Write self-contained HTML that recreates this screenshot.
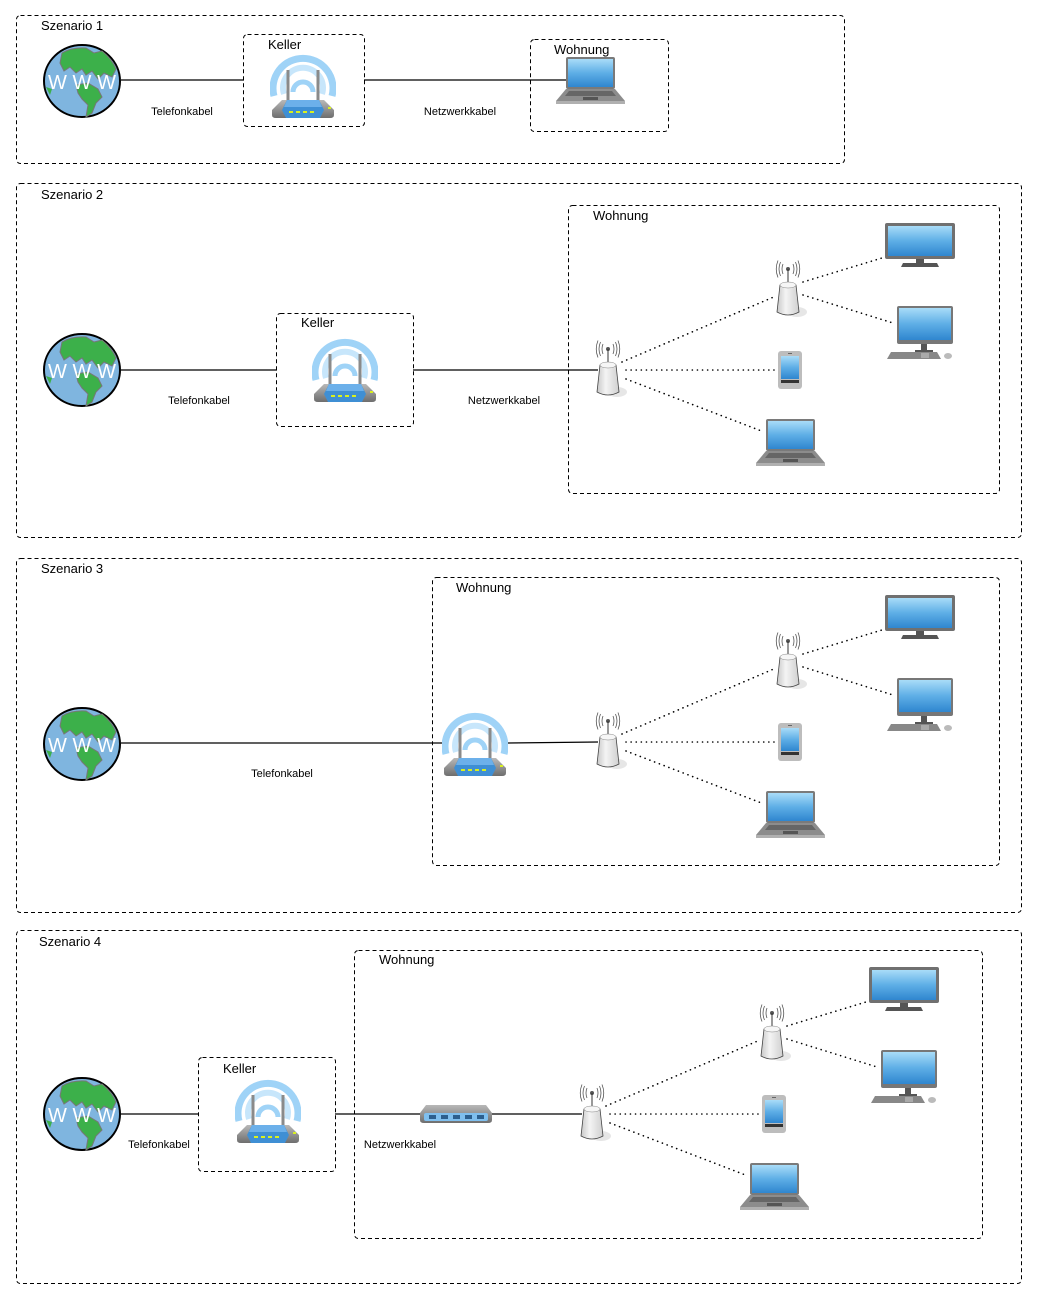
<!DOCTYPE html>
<html><head><meta charset="utf-8"><style>
html,body{margin:0;padding:0;background:#fff;}
svg{display:block;}
text{font-family:"Liberation Sans",sans-serif;fill:#000;}
.t{font-size:13px;}
.l{font-size:11px;}
.box{fill:none;stroke:#000;stroke-width:1;stroke-dasharray:4,3;}
.ln{stroke:#000;stroke-width:1.2;fill:none;}
.dot{stroke:#000;stroke-width:1.6;stroke-dasharray:0.1,5;stroke-linecap:round;fill:none;}
</style></head><body>
<svg width="1037" height="1299" viewBox="0 0 1037 1299" xmlns="http://www.w3.org/2000/svg">
<defs>
<linearGradient id="scr" x1="0" y1="0" x2="0" y2="1"><stop offset="0" stop-color="#a9dcf8"/><stop offset="0.5" stop-color="#5eaee6"/><stop offset="1" stop-color="#2f86cf"/></linearGradient>
<linearGradient id="gry" x1="0" y1="0" x2="0" y2="1"><stop offset="0" stop-color="#b8b8b8"/><stop offset="1" stop-color="#6e6e6e"/></linearGradient>
<linearGradient id="apg" x1="0" y1="0" x2="1" y2="0"><stop offset="0" stop-color="#c8c8c8"/><stop offset="0.4" stop-color="#f4f4f4"/><stop offset="1" stop-color="#cfcfcf"/></linearGradient>
<symbol id="globe" width="80" height="76" viewBox="0 0 80 76">
<ellipse cx="40" cy="38" rx="38" ry="36" fill="#7fb5df" stroke="#000" stroke-width="2"/>
<path d="M20,10 Q30,4 44,5 L52,10 L60,8 Q70,16 74,26 L70,34 L62,30 L56,36 L50,28 L44,32 L40,26 L34,30 L28,24 L22,28 L18,20 Z" fill="#3cb04a" stroke="#777" stroke-width="1"/>
<path d="M34,42 L46,40 L56,46 L60,54 L54,60 L50,70 L44,74 L46,62 L40,56 L36,50 Z" fill="#3cb04a" stroke="#777" stroke-width="1"/>
<path d="M4,44 L10,46 L8,52 Z" fill="#3cb04a"/>
<text x="6" y="46" textLength="68" lengthAdjust="spacing" style="font-size:20px;fill:#fff">W W W</text>
</symbol>
<symbol id="router" width="66" height="67" viewBox="0 0 66 67">
<path d="M4,44 A30,30 0 1 1 62,44" fill="none" stroke="#9fd3f7" stroke-width="7"/>
<path d="M14,42 A20,20 0 1 1 52,42" fill="none" stroke="#c7e6fb" stroke-width="6"/>
<path d="M23,40 A10,10 0 1 1 43,40" fill="none" stroke="#9fd3f7" stroke-width="5"/>
<rect x="16.5" y="18" width="3" height="38" fill="#8a8a8a"/>
<rect x="46.5" y="18" width="3" height="38" fill="#8a8a8a"/>
<path d="M2,58 L12,48 L54,48 L64,58 L64,63 Q64,66 60,66 L6,66 Q2,66 2,63 Z" fill="url(#gry)"/>
<path d="M17,48 L49,48 L54,58 L50,66 L16,66 L12,58 Z" fill="#3f8fd4"/>
<path d="M17,48 L49,48 L52,55 L14,55 Z" fill="#6cb0ea"/>
<g fill="#d8f020"><rect x="19" y="59" width="4" height="2"/><rect x="26" y="59" width="4" height="2"/><rect x="33" y="59" width="4" height="2"/><rect x="40" y="59" width="4" height="2"/><rect x="58" y="55" width="3" height="2"/></g>
</symbol>
<symbol id="ap" width="34" height="60" viewBox="0 0 34 60">
<ellipse cx="22" cy="52" rx="10" ry="5" fill="#e6e6e6"/>
<g fill="none" stroke="#555" stroke-width="0.8">
<path d="M8,4 Q6,9 8,14"/><path d="M5.5,2 Q2.5,9 5.5,16"/><path d="M3,0.5 Q-0.5,9 3,17.5"/>
<path d="M18,4 Q20,9 18,14"/><path d="M20.5,2 Q23.5,9 20.5,16"/><path d="M23,0.5 Q26.5,9 23,17.5"/>
</g>
<circle cx="13" cy="9" r="2" fill="#555"/>
<line x1="13" y1="9" x2="13" y2="28" stroke="#333" stroke-width="1"/>
<path d="M5,25 Q13,20 21,25 L24,52 Q13,58 2,52 Z" fill="url(#apg)" stroke="#444" stroke-width="0.8"/>
<ellipse cx="13" cy="25" rx="8" ry="3" fill="#f6f6f6" stroke="#888" stroke-width="0.5"/>
</symbol>
<symbol id="monitor" width="70" height="44" viewBox="0 0 70 44">
<rect x="0" y="0" width="70" height="36" rx="2" fill="#707070"/>
<rect x="3" y="3" width="64" height="30" fill="url(#scr)"/>
<rect x="31" y="36" width="8" height="4" fill="#555"/>
<path d="M18,40 L52,40 L54,44 L16,44 Z" fill="#555"/>
</symbol>
<symbol id="desktop" width="66" height="54" viewBox="0 0 66 54">
<rect x="10" y="0" width="56" height="38" rx="2" fill="#777"/>
<rect x="12" y="2" width="52" height="32" fill="url(#scr)"/>
<rect x="34" y="38" width="6" height="6" fill="#555"/>
<rect x="28" y="44" width="18" height="2" fill="#555"/>
<path d="M4,46 L50,46 L54,53 L0,53 Z" fill="#888"/>
<rect x="34" y="47" width="8" height="5" fill="#aaa"/>
<ellipse cx="61" cy="50" rx="4" ry="3" fill="#bbb"/>
</symbol>
<symbol id="phone" width="24" height="38" viewBox="0 0 24 38">
<rect x="0" y="0" width="24" height="38" rx="3" fill="#bdbdbd"/>
<rect x="3" y="5" width="18" height="23" fill="url(#scr)"/>
<rect x="3" y="29" width="18" height="3" fill="#333"/>
<rect x="10" y="2" width="4" height="1" fill="#666"/>
</symbol>
<symbol id="laptop" width="70" height="47" viewBox="0 0 70 47">
<rect x="10" y="0" width="49" height="32" rx="2" fill="#7a7a7a"/>
<rect x="12" y="2" width="45" height="28" fill="url(#scr)"/>
<path d="M10,32 L59,32 L69,44 L0,44 Z" fill="#8c8c8c"/>
<path d="M13,34 L56,34 L60,39 L9,39 Z" fill="#666"/>
<rect x="27" y="40" width="15" height="3" fill="#555"/>
<rect x="0" y="44" width="69" height="3" fill="#b0b0b0"/>
</symbol>
<symbol id="switch" width="72" height="18" viewBox="0 0 72 18">
<path d="M6,0 L66,0 L72,8 L72,15 Q72,18 68,18 L4,18 Q0,18 0,15 L0,8 Z" fill="url(#gry)"/>
<rect x="4" y="8" width="64" height="8" rx="2" fill="#7fbfee"/>
<g fill="#2c5f8e"><rect x="9" y="10" width="7" height="4"/><rect x="21" y="10" width="7" height="4"/><rect x="33" y="10" width="7" height="4"/><rect x="45" y="10" width="7" height="4"/><rect x="57" y="10" width="7" height="4"/></g>
</symbol>
</defs>

<!-- Scenario 1 -->
<rect class="box" x="16.5" y="15.5" width="828" height="148" rx="4"/>
<text class="t" x="41" y="30">Szenario 1</text>
<line class="ln" x1="121" y1="80" x2="244" y2="80"/>
<line class="ln" x1="364" y1="80" x2="566" y2="80"/>
<rect class="box" x="243.5" y="34.5" width="121" height="92" rx="4"/>
<text class="t" x="268" y="49">Keller</text>
<rect class="box" x="530.5" y="39.5" width="138" height="92" rx="4"/>
<text class="t" x="554" y="54">Wohnung</text>
<use href="#globe" x="42" y="43"/>
<use href="#router" x="270" y="52"/>
<use href="#laptop" x="556" y="57"/>
<text class="l" x="182" y="115" text-anchor="middle">Telefonkabel</text>
<text class="l" x="460" y="115" text-anchor="middle">Netzwerkkabel</text>

<!-- Scenario 2 -->
<rect class="box" x="16.5" y="183.5" width="1005" height="354" rx="4"/>
<text class="t" x="41" y="199">Szenario 2</text>
<rect class="box" x="568.5" y="205.5" width="431" height="288" rx="4"/>
<text class="t" x="593" y="220">Wohnung</text>
<rect class="box" x="276.5" y="313.5" width="137" height="113" rx="4"/>
<text class="t" x="301" y="327">Keller</text>
<line class="ln" x1="121" y1="370" x2="277" y2="370"/>
<line class="ln" x1="413" y1="370" x2="598" y2="370"/>
<use href="#globe" x="42" y="332"/>
<use href="#router" x="312" y="336"/>
<text class="l" x="199" y="404" text-anchor="middle">Telefonkabel</text>
<text class="l" x="504" y="404" text-anchor="middle">Netzwerkkabel</text>
<g>
<line class="dot" x1="622" y1="362" x2="776" y2="296"/>
<line class="dot" x1="626" y1="370" x2="777" y2="370"/>
<line class="dot" x1="626" y1="379" x2="764" y2="432"/>
<line class="dot" x1="803" y1="282" x2="882" y2="258"/>
<line class="dot" x1="803" y1="295" x2="893" y2="323"/>
<use href="#ap" x="595" y="340"/>
<use href="#ap" x="775" y="260"/>
<use href="#monitor" x="885" y="223"/>
<use href="#desktop" x="887" y="306"/>
<use href="#phone" x="778" y="351"/>
<use href="#laptop" x="756" y="419"/>
</g>

<!-- Scenario 3 -->
<rect class="box" x="16.5" y="558.5" width="1005" height="354" rx="4"/>
<text class="t" x="41" y="573">Szenario 3</text>
<rect class="box" x="432.5" y="577.5" width="567" height="288" rx="4"/>
<text class="t" x="456" y="592">Wohnung</text>
<line class="ln" x1="121" y1="743" x2="444" y2="743"/>
<line class="ln" x1="506" y1="743" x2="598" y2="742"/>
<use href="#globe" x="42" y="706"/>
<use href="#router" x="442" y="710"/>
<text class="l" x="282" y="777" text-anchor="middle">Telefonkabel</text>
<g transform="translate(0,372)">
<line class="dot" x1="622" y1="362" x2="776" y2="296"/>
<line class="dot" x1="626" y1="370" x2="777" y2="370"/>
<line class="dot" x1="626" y1="379" x2="764" y2="432"/>
<line class="dot" x1="803" y1="282" x2="882" y2="258"/>
<line class="dot" x1="803" y1="295" x2="893" y2="323"/>
<use href="#ap" x="595" y="340"/>
<use href="#ap" x="775" y="260"/>
<use href="#monitor" x="885" y="223"/>
<use href="#desktop" x="887" y="306"/>
<use href="#phone" x="778" y="351"/>
<use href="#laptop" x="756" y="419"/>
</g>

<!-- Scenario 4 -->
<rect class="box" x="16.5" y="930.5" width="1005" height="353" rx="4"/>
<text class="t" x="39" y="946">Szenario 4</text>
<rect class="box" x="354.5" y="950.5" width="628" height="288" rx="4"/>
<text class="t" x="379" y="964">Wohnung</text>
<rect class="box" x="198.5" y="1057.5" width="137" height="114" rx="4"/>
<text class="t" x="223" y="1073">Keller</text>
<line class="ln" x1="121" y1="1114" x2="199" y2="1114"/>
<line class="ln" x1="335" y1="1114" x2="422" y2="1114"/>
<line class="ln" x1="490" y1="1114" x2="582" y2="1114"/>
<use href="#globe" x="42" y="1076"/>
<use href="#router" x="235" y="1077"/>
<use href="#switch" x="420" y="1105"/>
<text class="l" x="159" y="1148" text-anchor="middle">Telefonkabel</text>
<text class="l" x="400" y="1148" text-anchor="middle">Netzwerkkabel</text>
<g transform="translate(-16,744)">
<line class="dot" x1="622" y1="362" x2="776" y2="296"/>
<line class="dot" x1="626" y1="370" x2="777" y2="370"/>
<line class="dot" x1="626" y1="379" x2="764" y2="432"/>
<line class="dot" x1="803" y1="282" x2="882" y2="258"/>
<line class="dot" x1="803" y1="295" x2="893" y2="323"/>
<use href="#ap" x="595" y="340"/>
<use href="#ap" x="775" y="260"/>
<use href="#monitor" x="885" y="223"/>
<use href="#desktop" x="887" y="306"/>
<use href="#phone" x="778" y="351"/>
<use href="#laptop" x="756" y="419"/>
</g>
</svg>
</body></html>
